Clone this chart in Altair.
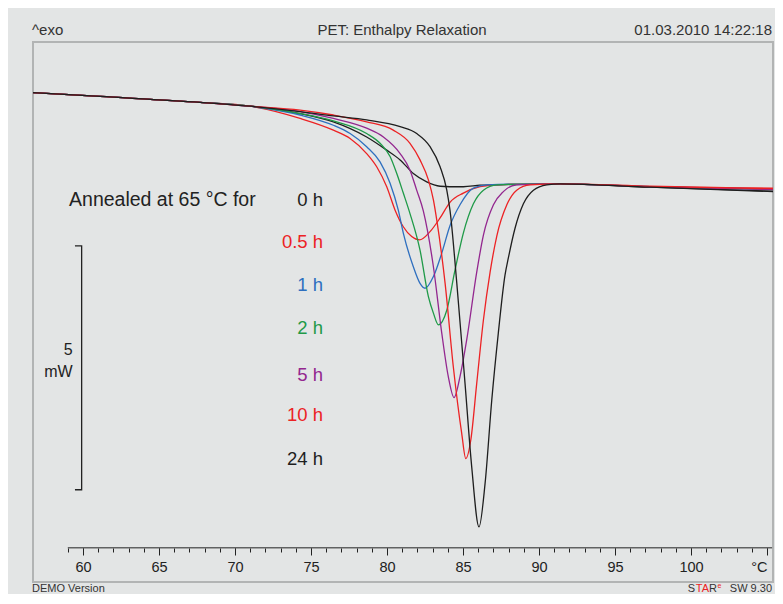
import altair as alt
import pandas as pd

# ---------------- data ----------------
SERIES = ["0 h", "0.5 h", "1 h", "2 h", "5 h", "10 h", "24 h"]
COLORS = ["#1e1e1e", "#ec2224", "#2e6fbf", "#1f9a48", "#93278f", "#ec2224", "#1e1e1e"]

# common glassy baseline (°C, mW)
T_COMMON = [56.71, 61.12, 67.70, 70.99]
HF_COMMON = [0.03, -0.05, -0.17, -0.25]

T_0H = [74.28, 76.47, 78.66, 79.98, 80.86, 81.73, 82.61, 83.49, 84.14, 85.02, 86.12, 87.22, 91.38, 97.30, 105.39]
HF_0H = [-0.40, -0.57, -0.88, -1.15, -1.35, -1.63, -1.80, -1.89, -1.90, -1.90, -1.87, -1.86, -1.84, -1.91, -1.99]

T_05H = [74.28, 76.47, 77.57, 78.66, 79.32, 79.98, 80.53, 81.07, 81.62, 82.13, 82.83, 83.49, 84.14, 85.02, 86.12, 87.22, 91.38, 97.30, 105.39]
HF_05H = [-0.50, -0.74, -0.91, -1.22, -1.49, -1.90, -2.38, -2.72, -2.92, -2.99, -2.82, -2.54, -2.22, -2.03, -1.90, -1.86, -1.84, -1.90, -1.93]

T_1H = [74.28, 76.47, 77.57, 78.66, 79.54, 80.20, 80.74, 81.07, 81.73, 82.17, 82.50, 83.05, 83.60, 84.14, 84.80, 85.68, 86.56, 91.38, 97.30, 105.39]
HF_1H = [-0.43, -0.64, -0.81, -1.08, -1.39, -1.83, -2.38, -2.85, -3.54, -3.88, -3.98, -3.74, -3.26, -2.70, -2.27, -1.93, -1.86, -1.84, -1.90, -1.95]

T_2H = [74.28, 76.47, 78.66, 79.54, 80.20, 80.64, 81.07, 81.51, 82.17, 82.72, 83.05, 83.38, 83.93, 84.47, 85.02, 85.68, 86.34, 87.22, 91.38, 97.30, 105.39]
HF_2H = [-0.40, -0.55, -0.81, -1.01, -1.28, -1.63, -2.03, -2.45, -3.20, -4.15, -4.49, -4.73, -4.43, -3.61, -2.85, -2.25, -1.97, -1.86, -1.84, -1.90, -1.96]

T_5H = [74.28, 76.47, 78.66, 79.76, 80.86, 81.51, 81.95, 82.39, 83.05, 83.60, 84.03, 84.41, 84.80, 85.24, 85.90, 86.34, 87.00, 87.65, 88.53, 91.38, 97.30, 105.39]
HF_5H = [-0.36, -0.50, -0.70, -0.88, -1.22, -1.56, -1.97, -2.40, -3.54, -4.90, -5.79, -6.22, -5.79, -5.04, -3.65, -2.89, -2.27, -2.00, -1.86, -1.84, -1.90, -1.96]

T_10H = [74.28, 76.47, 78.66, 80.41, 81.51, 82.17, 82.72, 83.05, 83.27, 83.82, 84.36, 84.91, 85.18, 85.51, 85.90, 86.34, 86.78, 87.22, 87.88, 88.53, 89.41, 91.38, 97.30, 105.39]
HF_10H = [-0.33, -0.43, -0.57, -0.74, -1.01, -1.35, -1.76, -2.17, -2.58, -3.88, -5.59, -6.95, -7.47, -7.09, -5.93, -4.63, -3.65, -2.91, -2.27, -1.97, -1.86, -1.84, -1.89, -1.94]

T_24H = [74.28, 76.47, 78.66, 80.86, 81.95, 82.83, 83.49, 83.93, 84.14, 84.59, 85.13, 85.57, 86.05, 86.45, 86.89, 87.32, 87.76, 87.98, 88.42, 88.97, 89.63, 90.51, 91.38, 97.30, 105.39]
HF_24H = [-0.36, -0.45, -0.53, -0.67, -0.81, -1.08, -1.49, -1.97, -2.38, -3.88, -5.93, -7.64, -8.87, -7.98, -6.27, -4.90, -3.71, -3.36, -2.75, -2.25, -1.97, -1.86, -1.84, -1.91, -2.00]

# label positions (°C, mW)
LABEL_T = 75.79
LABEL_HF = [-2.17, -3.03, -3.91, -4.80, -5.76, -6.58, -7.47]

# 5 mW scale bar (°C, mW)
BAR_T = [59.47, 59.91, 59.91, 59.47]
BAR_HF = [-3.11, -3.11, -8.11, -8.11]

MAJOR_TICKS = [60, 65, 70, 75, 80, 85, 90, 95, 100, 105]
MINOR_TICKS = list(range(59, 106))

# ---------------- tables ----------------
curves = [
    ("0 h", T_0H, HF_0H), ("0.5 h", T_05H, HF_05H), ("1 h", T_1H, HF_1H),
    ("2 h", T_2H, HF_2H), ("5 h", T_5H, HF_5H), ("10 h", T_10H, HF_10H),
    ("24 h", T_24H, HF_24H),
]
rows = []
for name, ts, hs in curves:
    for t, h in zip(T_COMMON + ts, HF_COMMON + hs):
        rows.append({"series": name, "T": t, "HF": h})
df = pd.DataFrame(rows)

df_lab = pd.DataFrame({"series": SERIES, "T": [LABEL_T] * len(SERIES), "HF": LABEL_HF})
df_bar = pd.DataFrame({"T": BAR_T, "HF": BAR_HF, "o": [0, 1, 2, 3]})
df_axis = pd.DataFrame({"T": [59.0], "T2": [105.33], "HF": [-9.30]})

FONT = "Liberation Sans"
BG = "#e3e5e5"
INK = "#222222"

xscale = alt.Scale(domain=[56.71, 105.39], nice=False, zero=False)
yscale = alt.Scale(domain=[-10.0, 1.066], nice=False, zero=False)
cscale = alt.Scale(domain=SERIES, range=COLORS)

major_axis = alt.Axis(
    title=None, orient="bottom", offset=-34, values=MAJOR_TICKS, grid=False, domain=False,
    labelExpr="datum.value === 105 ? '°C' : datum.label",
    labelAlign={"condition": {"test": "datum.value === 105", "value": "right"}, "value": "center"},
    tickSize=7, tickColor=INK, tickWidth=1, labelColor=INK, labelFont=FONT, labelFontSize=14.5,
    labelPadding=5, labelOverlap=False, labelFlush=False,
)
minor_axis = alt.Axis(
    title=None, orient="bottom", offset=-34, values=MINOR_TICKS, grid=False, domain=False,
    labels=False, tickSize=4, tickColor=INK, tickWidth=1,
)

lines = alt.Chart(df).mark_line(strokeWidth=1.3, interpolate="monotone").encode(
    x=alt.X("T:Q", scale=xscale, axis=major_axis),
    y=alt.Y("HF:Q", scale=yscale, axis=None),
    color=alt.Color("series:N", scale=cscale, legend=None),
)

axis_line = alt.Chart(df_axis).mark_rule(color=INK, strokeWidth=1).encode(
    x=alt.X("T:Q", axis=None), x2="T2:Q", y=alt.Y("HF:Q", axis=None)
)

bar = alt.Chart(df_bar).mark_line(color=INK, strokeWidth=1.3).encode(
    x=alt.X("T:Q", axis=minor_axis), y=alt.Y("HF:Q", axis=None), order="o:Q"
)

bar_text = alt.Chart(pd.DataFrame({"t": ["5", "mW"], "T": [59.32, 59.32], "HF": [-5.25, -5.69]})).mark_text(
    align="right", baseline="middle", font=FONT, fontSize=16, color=INK
).encode(x=alt.X("T:Q", axis=None), y=alt.Y("HF:Q", axis=None), text="t:N")

labels = alt.Chart(df_lab).mark_text(align="right", baseline="middle", font=FONT, fontSize=18.5).encode(
    x=alt.X("T:Q", axis=None), y=alt.Y("HF:Q", axis=None), text="series:N",
    color=alt.Color("series:N", scale=cscale, legend=None),
)

annot = alt.Chart(pd.DataFrame({"t": ["Annealed at 65 °C for"], "T": [59.08], "HF": [-2.17]})).mark_text(
    align="left", baseline="middle", font=FONT, fontSize=19.5, color=INK
).encode(x=alt.X("T:Q", axis=None), y=alt.Y("HF:Q", axis=None), text="t:N")


def txt(s, x, y, align, size=15, color="#333333", baseline="middle"):
    return alt.Chart(pd.DataFrame({"t": [s]})).mark_text(
        align=align, baseline=baseline, font=FONT, fontSize=size, color=color
    ).encode(x=alt.value(x), y=alt.value(y), text="t:N")


header = [
    txt("^exo", -1, -12, "left"),
    txt("PET: Enthalpy Relaxation", 369, -12, "center"),
    txt("01.03.2010 14:22:18", 739, -12, "right"),
]
FY = 550
FS = 11
footer = [
    txt("DEMO Version", -1, FY, "left", FS, baseline="alphabetic"),
    txt("S", 662, FY, "right", FS, baseline="alphabetic"),
    txt("TA", 676, FY, "right", FS, color="#ec2224", baseline="alphabetic"),
    txt("R", 684, FY, "right", FS, baseline="alphabetic"),
    txt("e", 684.5, FY - 4, "left", 7, color="#ec2224", baseline="alphabetic"),
    txt("SW 9.30", 739, FY, "right", FS, baseline="alphabetic"),
]

chart = alt.layer(lines, axis_line, bar, bar_text, labels, annot, *header, *footer).properties(
    width=740, height=540,
    padding={"left": 25, "top": 34, "right": 2, "bottom": 12},
    autosize=alt.AutoSizeParams(type="none"),
    background=BG,
).resolve_axis(x="independent").configure_view(stroke="#b2b4b4", strokeWidth=2)

chart.save("out.html", embed_options={"renderer": "svg", "actions": False})
